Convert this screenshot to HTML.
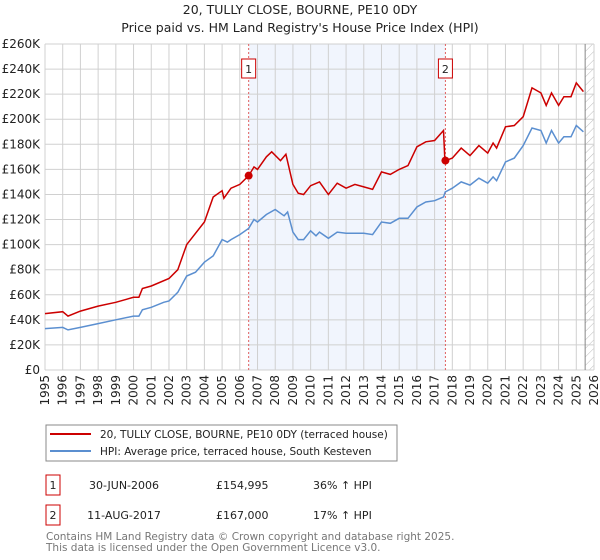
<!DOCTYPE html>
<html><head><meta charset="utf-8">
<style>
body{margin:0;background:#fff;font-family:"DejaVu Sans","Liberation Sans",sans-serif;}
svg{display:block}
text{font-family:"DejaVu Sans","Liberation Sans",sans-serif;}
</style></head>
<body>
<svg width="600" height="560" viewBox="0 0 600 560">
<defs>
<pattern id="hatch" width="6" height="6" patternUnits="userSpaceOnUse" patternTransform="rotate(45)">
<line x1="0" y1="0" x2="0" y2="6" stroke="#bbb" stroke-width="1"/>
</pattern>
</defs>
<text x="300" y="14" text-anchor="middle" font-size="12.5" fill="#222">20, TULLY CLOSE, BOURNE, PE10 0DY</text>
<text x="300" y="32" text-anchor="middle" font-size="12.5" fill="#222">Price paid vs. HM Land Registry's House Price Index (HPI)</text>
<g id="plot"></g>
<g>
<rect x="46" y="425" width="351" height="36" fill="#fff" stroke="#888"/>
<line x1="50" y1="434" x2="91" y2="434" stroke="#cc0000" stroke-width="2"/>
<text x="100" y="438" font-size="10.5" fill="#222">20, TULLY CLOSE, BOURNE, PE10 0DY (terraced house)</text>
<line x1="50" y1="451" x2="91" y2="451" stroke="#5b8fd0" stroke-width="2"/>
<text x="100" y="455" font-size="10.5" fill="#222">HPI: Average price, terraced house, South Kesteven</text>
</g>
<g font-size="11" fill="#222">
<rect x="46" y="475" width="14" height="20" fill="#fff" stroke="#cc0000"/>
<text x="53" y="489" text-anchor="middle">1</text>
<text x="124" y="489" text-anchor="middle">30-JUN-2006</text>
<text x="216" y="489">£154,995</text>
<text x="313" y="489">36% ↑ HPI</text>
<rect x="46" y="505" width="14" height="20" fill="#fff" stroke="#cc0000"/>
<text x="53" y="519" text-anchor="middle">2</text>
<text x="124" y="519" text-anchor="middle">11-AUG-2017</text>
<text x="216" y="519">£167,000</text>
<text x="313" y="519">17% ↑ HPI</text>
</g>
<text x="46" y="540" font-size="10.5" fill="#777">Contains HM Land Registry data © Crown copyright and database right 2025.</text>
<text x="46" y="551" font-size="10.5" fill="#777">This data is licensed under the Open Government Licence v3.0.</text>
</svg>
<script>
const yTicks=[0,20,40,60,80,100,120,140,160,180,200,220,240,260];
const yearTicks=[1995,1996,1997,1998,1999,2000,2001,2002,2003,2004,2005,2006,2007,2008,2009,2010,2011,2012,2013,2014,2015,2016,2017,2018,2019,2020,2021,2022,2023,2024,2025,2026];
const hpiT=[1995,1996,1996.3,1997,1998,1999,2000,2000.3,2000.5,2001,2001.7,2002,2002.5,2003,2003.5,2004,2004.5,2005,2005.3,2005.5,2006,2006.5,2006.8,2007,2007.5,2008,2008.5,2008.7,2009,2009.3,2009.6,2010,2010.3,2010.5,2011,2011.5,2012,2012.5,2013,2013.5,2014,2014.5,2015,2015.5,2016,2016.5,2017,2017.5,2017.6,2018,2018.5,2019,2019.5,2020,2020.3,2020.5,2021,2021.5,2022,2022.5,2023,2023.3,2023.6,2024,2024.3,2024.7,2025,2025.4];
const hpiV=[33,34,32,34,37,40,43,43,48,50,54,55,62,75,78,86,91,104,102,104,108,113,120,118,124,128,123,126,110,104,104,111,107,110,105,110,109,109,109,108,118,117,121,121,130,134,135,138,142,145,150,147.5,153,149,154,151,166,169,179,193,191,181,191,181,186,186,195,190];
const redT=[1995,1996,1996.3,1997,1998,1999,2000,2000.3,2000.5,2001,2002,2002.5,2003,2004,2004.5,2005,2005.1,2005.5,2006,2006.5,2006.8,2007,2007.5,2007.8,2008.3,2008.6,2009,2009.3,2009.6,2010,2010.5,2011,2011.5,2012,2012.5,2013,2013.5,2014,2014.5,2015,2015.5,2016,2016.5,2017,2017.5,2017.58,2017.62,2018,2018.5,2019,2019.5,2020,2020.3,2020.5,2021,2021.5,2022,2022.5,2023,2023.3,2023.6,2024,2024.3,2024.7,2025,2025.4];
const redV=[45,46.5,43,47,51,54,58,58,65,67,73,80,100,118,138,143,137,145,148,155,162,160,170,174,167,172,148,141,140,147,150,140,149,145,148,146,144,158,156,160,163,178,182,183,191,167,167,169,177,171,179,173,181,177,194,195,202,225,221,211,221,211,218,218,229,222];
const saleT=[2006.5,2017.61];
const saleV=[154.995,167];
const saleLabels=["1","2"];

const L=45,R=594,T=44,B=370;
const x=t=>L+(t-1995)/31*(R-L);
const y=v=>B-v/260*(B-T);
const NS="http://www.w3.org/2000/svg";
const g=document.getElementById('plot');
function mk(tag,attrs,parent){const e=document.createElementNS(NS,tag);for(const k in attrs)e.setAttribute(k,attrs[k]);(parent||g).appendChild(e);return e;}

let e=mk('rect',{x:x(saleT[0]),y:T,width:x(saleT[1])-x(saleT[0]),height:B-T,fill:'#eef3fc',opacity:0.8});


e=mk('rect',{x:x(2025.5),y:T,width:R-x(2025.5),height:B-T,fill:'url(#hatch)'});



yTicks.forEach(v=>{
  let l=mk('line',{x1:L,x2:R,y1:y(v),y2:y(v),stroke:'#d0d0d0','stroke-width':1});
  
  
  let t=mk('text',{x:L-5,y:y(v)+4,'text-anchor':'end','font-size':12,fill:'#222'});
  t.textContent=v===0?'£0':'£'+v+'K';
  
  
});
yearTicks.forEach(yr=>{
  let l=mk('line',{x1:x(yr),x2:x(yr),y1:T,y2:B,stroke:'#d0d0d0','stroke-width':1});
  
  
  let t=mk('text',{x:0,y:0,'text-anchor':'end','font-size':12,fill:'#222',transform:`translate(${x(yr)+4},${B+5}) rotate(-90)`});
  t.textContent=yr;
  
  
});
e=mk('line',{x1:x(2025.5),x2:x(2025.5),y1:T,y2:B,stroke:'#888','stroke-width':1});



saleT.forEach((t,i)=>{
  let l=mk('line',{x1:x(t),x2:x(t),y1:T,y2:B,stroke:'#e06060','stroke-width':1,'stroke-dasharray':'2,2'});
  
  
  let r=mk('rect',{x:x(t)-7,y:59,width:14,height:19,fill:'#fff',stroke:'#cc0000'});
  
  
  let tx=mk('text',{x:x(t),y:73,'text-anchor':'middle','font-size':11,fill:'#222'});
  tx.textContent=saleLabels[i];
  
  
});

let p=mk('path',{d:hpiT.map((t,i)=>(i?'L':'M')+x(t).toFixed(1)+' '+y(hpiV[i]).toFixed(1)).join(''),fill:'none',stroke:'#5b8fd0','stroke-width':1.5});


p=mk('path',{d:redT.map((t,i)=>(i?'L':'M')+x(t).toFixed(1)+' '+y(redV[i]).toFixed(1)).join(''),fill:'none',stroke:'#cc0000','stroke-width':1.5});


saleT.forEach((t,i)=>{
  let c=mk('circle',{cx:x(t),cy:y(saleV[i]),r:4,fill:'#cc0000'});
  
  
});
</script>
</body></html>
